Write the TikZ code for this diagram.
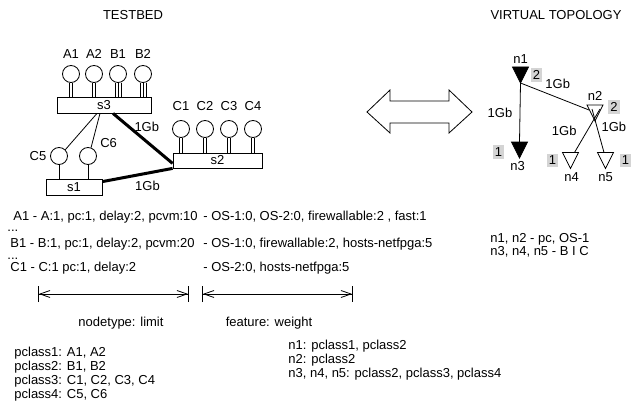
\documentclass[tikz,border=0pt]{standalone}
\usepackage{fontspec}
\setmainfont{Liberation Sans}
\usetikzlibrary{calc, arrows.meta}

\tikzset{
    switch/.style={draw, rectangle, inner sep=0pt, minimum height=16pt},
    host/.style={draw, circle, inner sep=0pt, minimum size=17pt},
    weight/.style={fill=black!17, inner xsep=2pt, inner ysep=2.5pt},
    link/.style={line width=3pt},
    txt/.style={anchor=base west, inner sep=0pt},
    dim/.style={{Bar[width=16pt]Straight Barb[length=10pt,width=7pt]}-{Straight Barb[length=10pt,width=7pt]Bar[width=16pt]}}
}

\begin{document}
\begin{tikzpicture}[x=1pt, y=-1pt, line width=0.8pt, every node/.style={font=\fontsize{13}{15}\selectfont}]
    \useasboundingbox (0,0) rectangle (634,409);

    \node (tb) at (133,15) {TESTBED};
    \node (vt) at (556,15) {VIRTUAL TOPOLOGY};

    % switches and hosts
    \node[switch, minimum width=94pt] (s3) at (104,105) {s3};
    \node[switch, minimum width=89pt, minimum height=15pt] (s2) at (217.5,160.5) {s2};
    \node[switch, minimum width=56pt] (s1) at (74,187) {s1};

    \foreach \h/\x in {A1/71, A2/94, B1/118, B2/143}
        \node[host, label={[label distance=3pt]above:\h}] (\h) at (\x,74) {};
    \foreach \h/\x in {C1/181, C2/205, C3/229, C4/253}
        \node[host, label={[label distance=6pt]above:\h}] (\h) at (\x,129) {};
    \node[host, label={[label distance=0pt]180:C5}] (C5) at (59,156) {};
    \node[host, label={[label distance=1pt]30:C6}] (C6) at (88,156) {};

    \foreach \h/\s/\k in {A1/s3/2, A2/s3/2, B1/s3/3, B2/s3/3, C1/s2/2, C2/s2/2, C3/s2/2, C4/s2/2, C5/s1/1, C6/s1/1}
        \foreach \i in {1,...,\k} {
            \pgfmathsetmacro{\d}{(\i-(\k+1)/2)*3}
            \draw ($(\h.south)+(\d,0)$) -- ($(\h.south |- \s.north)+(\d,0)$);
        }

    \draw ($(s3.south)+(-7,0)$) -- (C5.north east);
    \draw ($(s3.south)+(-4,0)$) -- (C6.70);
    \draw[link] ($(s3.south)+(9,0)$) -- ($(s2.south west)+(0,-5)$)
        node[midway, above=2pt, xshift=4pt] (g32) {1Gb};
    \draw[link] ($(s1.north east)+(0,3)$) -- (s2.south west)
        node[midway, below=1pt, xshift=10pt] (g12) {1Gb};

    % double arrow
    \draw (367,112) -- (390,90) -- (390,101) -- (449,101) -- (449,90) -- (472,112)
        -- (449,133) -- (449,123) -- (390,123) -- (390,133) -- cycle;

    % virtual topology
    \foreach \n/\x/\y in {n1/520.5/75, n2/595/113, n3/519.5/150, n4/570.5/160.5, n5/605.5/160.5}
        \coordinate (\n) at (\x,\y);

    \draw ($(n1)+(0,8)$) -- ($(n3)+(0,-8)$) node[midway, left=4pt] (g13) {1Gb};
    \draw ($(n1)+(0,8)$) -- ($(n2)+(-6,-3)$) node[midway, above=4pt, xshift=3pt] (g12v) {1Gb};
    \draw ($(n2)+(5,-4)$) -- ($(n4)+(4,-8)$) node[midway, left=7pt] (g24) {1Gb};
    \draw ($(n2)+(-3,-4)$) -- ($(n5)+(-1.5,-8)$) node[pos=0.4, right=1pt] (g25) {1Gb};

    \foreach \n/\f in {n1/black, n2/none, n3/black, n4/white, n5/white}
        \draw[fill=\f] ($(\n)+(-8,-8)$) -- ($(\n)+(8,-8)$) -- ($(\n)+(0,8)$) -- cycle;

    \node[above] (n1l) at ($(n1)+(0,-8)$) {n1};
    \node[above=1pt] (n2l) at ($(n2)+(0,-8)$) {n2};
    \node[below] (n3l) at ($(n3)+(-2,8)$) {n3};
    \node[below] (n4l) at ($(n4)+(1,8)$) {n4};
    \node[below] (n5l) at ($(n5)+(0,8)$) {n5};

    \node[weight, right=2pt] (w1) at ($(n1)+(8,0)$) {2};
    \node[weight, right=5pt] (w2) at ($(n2)+(8,-6)$) {2};
    \node[weight, left=7pt] (w3) at ($(n3)+(-8,2)$) {1};
    \node[weight, left=4pt] (w4) at ($(n4)+(-8,0)$) {1};
    \node[weight, right=6pt] (w5) at ($(n5)+(8,0)$) {1};

    % constraints
    \node[txt] (ra) at (13,220) {A1 - A:1, pc:1, delay:2, pcvm:10};
    \node[txt] (fa) at (203,220) {- OS-1:0, OS-2:0, firewallable:2 , fast:1};
    \node[txt] (da) at (7,231) {...};
    \node[txt] (rb) at (10,247) {B1 - B:1, pc:1, delay:2, pcvm:20};
    \node[txt] (fb) at (203,247) {- OS-1:0, firewallable:2, hosts-netfpga:5};
    \node[txt] (db) at (7,259) {...};
    \node[txt] (rc) at (10,271) {C1 - C:1 pc:1, delay:2};
    \node[txt] (fc) at (203,271) {- OS-2:0, hosts-netfpga:5};

    \node[txt] (nt1) at (490,242) {n1, n2 - pc, OS-1};
    \node[txt] (nt2) at (490,255) {n3, n4, n5 - B I C};

    \coordinate (lim1) at (38,294);
    \coordinate (lim2) at (189,294);
    \coordinate (wt1) at (202,294);
    \coordinate (wt2) at (353,294);
    \draw[dim] (lim1) -- (lim2);
    \draw[dim] (wt1) -- (wt2);
    \node[anchor=base] (lim) at (121,326) {nodetype: limit};
    \node[anchor=base] (wt) at (269,326) {feature: weight};

    % classes
    \foreach \t [count=\i] in {{pclass1: A1, A2}, {pclass2: B1, B2}, {pclass3: C1, C2, C3, C4}, {pclass4: C5, C6}}
        \node[txt] (pc\i) at (14,342+14*\i) {\t};
    \foreach \t [count=\i] in {{n1: pclass1, pclass2}, {n2: pclass2}, {n3, n4, n5: pclass2, pclass3, pclass4}}
        \node[txt] (np\i) at (288,335+14*\i) {\t};
\end{tikzpicture}
\end{document}
